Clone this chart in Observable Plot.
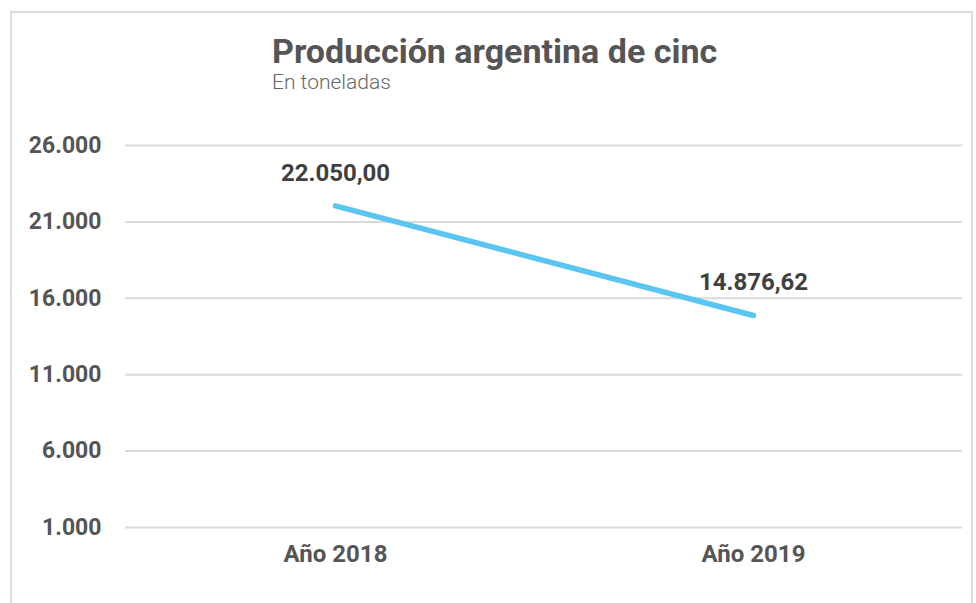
<!DOCTYPE html>
<html>
<head>
<meta charset="utf-8">
<script src="https://cdn.jsdelivr.net/npm/d3@7"></script>
<script src="https://cdn.jsdelivr.net/npm/@observablehq/plot@0.6"></script>
<style>
  html, body { margin: 0; padding: 0; background: #fff; }
  body { width: 976px; height: 603px; position: relative; overflow: hidden; font-family: Roboto, "Noto Sans", sans-serif; }
  #frame { position: absolute; left: 10px; top: 11px; width: 963px; height: 610px; border: 2px solid #dcdcdc; box-sizing: border-box; }
  #title { position: absolute; left: 272px; top: 31px; font-size: 34px; font-weight: 700; color: #555; white-space: nowrap; }
  #subtitle { position: absolute; left: 272px; top: 70px; font-size: 21px; font-weight: 300; color: #666; white-space: nowrap; }
  #chart { position: absolute; left: 0; top: 0; }
</style>
</head>
<body>
<div id="frame"></div>
<div id="title">Producción argentina de cinc</div>
<div id="subtitle">En toneladas</div>
<div id="chart"></div>
<script>
const years = ["Año 2018", "Año 2019"];
const production = [22050.00, 14876.62];
const yTicks = [1000, 6000, 11000, 16000, 21000, 26000];

const locale = d3.formatLocale({decimal: ",", thousands: ".", grouping: [3], currency: ["$", ""]});
const fmtTick = locale.format(",.0f");
const fmtVal = locale.format(",.2f");

const data = years.map((y, i) => ({year: y, value: production[i]}));

const chart = Plot.plot({
  width: 976,
  height: 603,
  marginTop: 145,
  marginBottom: 76,
  marginLeft: 125,
  marginRight: 14,
  style: {fontFamily: "Roboto, sans-serif", background: "transparent"},
  x: {type: "point", domain: years, label: null},
  y: {domain: [1000, 26000], label: null},
  marks: [
    Plot.ruleY(yTicks, {stroke: "#d9d9d9", strokeWidth: 2}),
    Plot.axisY({ticks: yTicks, tickFormat: fmtTick, tickSize: 0, tickPadding: 24, fontSize: 23, fontWeight: 700, fill: "#555", label: null}),
    Plot.axisX({tickSize: 0, tickPadding: 17, fontSize: 24, fontWeight: 700, fill: "#555", label: null}),
    Plot.line(data, {x: "year", y: "value", stroke: "#5bc5f2", strokeWidth: 5.5, strokeLinecap: "round"}),
    Plot.text(data, {x: "year", y: "value", text: d => fmtVal(d.value), dy: -33, fontSize: 24, fontWeight: 700, fill: "#404040"})
  ]
});
document.getElementById("chart").appendChild(chart);
</script>
</body>
</html>
